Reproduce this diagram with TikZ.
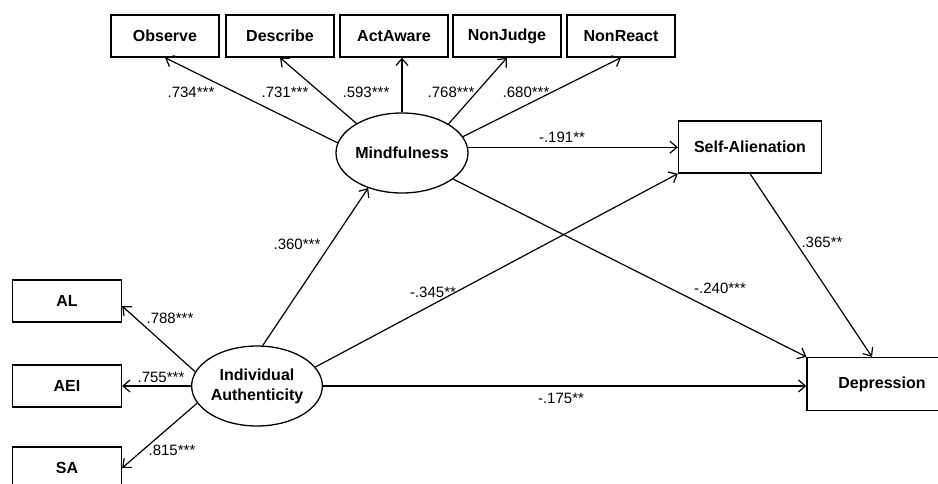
\documentclass[tikz,border=0pt]{standalone}
\usepackage{fontspec}
\setmainfont{Liberation Sans}
\usetikzlibrary{shapes.geometric,arrows.meta}

\tikzset{
	indic/.style={rectangle, draw, line width=1.3pt, minimum height=42pt, inner sep=0pt, font=\fontsize{16}{19}\selectfont\bfseries},
	latent/.style={ellipse, draw, line width=1.3pt, minimum width=127pt, minimum height=80pt, inner sep=0pt, align=center, font=\fontsize{16}{20}\selectfont\bfseries},
	coef/.style={inner sep=0pt, font=\fontsize{15}{18}\selectfont},
	link/.style={-{Straight Barb[length=7pt,width=12pt]}, line width=1.2pt}
}

\begin{document}
\begin{tikzpicture}[x=1pt, y=-1pt]
	\useasboundingbox (0,0) rectangle (938,483);

	% latent variables
	\node[latent] (mind) at (402,153) {Mindfulness};
	\node[latent] (ia) at (257,386) {Individual\\Authenticity};

	% mindfulness facets
	\node[indic, minimum width=108pt] (obs) at (165,36) {Observe};
	\node[indic, minimum width=108pt] (desc) at (280,36) {Describe};
	\node[indic, minimum width=108pt] (act) at (394,36) {ActAware};
	\node[indic, minimum width=108pt] (nonj) at (507,36) {NonJudge};
	\node[indic, minimum width=108pt] (nonr) at (621,36) {NonReact};

	% authenticity parcels
	\node[indic, minimum width=109pt] (al) at (67,301) {AL};
	\node[indic, minimum width=109pt] (aei) at (67,386) {AEI};
	\node[indic, minimum width=109pt] (sa) at (67,468) {SA};

	\node[indic, minimum width=143pt, minimum height=52pt] (selfal) at (750,147) {Self-Alienation};
	\node[indic, minimum width=150pt, minimum height=53pt] (dep) at (882,384) {Depression};

	% loadings
	\draw[link] (mind.171) -- (obs.south);
	\draw[link] (mind.147) -- (desc.south);
	\draw[link] (mind.north) -- (mind.north |- act.south);
	\draw[link] (mind.32) -- (nonj.south);
	\draw[link] (mind.15) -- (nonr.south);
	\draw[link] (ia.167) -- ([yshift=-5pt]al.east);
	\draw[link] (ia.west) -- (ia.west -| aei.east);
	\draw[link] (ia.196) -- (sa.east);

	\node[coef] (l-obs) at (191,92) {.734***};
	\node[coef] (l-desc) at (285,92) {.731***};
	\node[coef] (l-act) at (366,92) {.593***};
	\node[coef] (l-nonj) at (451,92) {.768***};
	\node[coef] (l-nonr) at (526,92) {.680***};
	\node[coef] (l-al) at (170,318) {.788***};
	\node[coef] (l-aei) at (161,377) {.755***};
	\node[coef] (l-sa) at (172,450) {.815***};

	% structural paths
	\draw[link] (ia.82) -- (mind.226);
	\draw[link] (mind.5) -- (mind.5 -| selfal.west);
	\draw[link] (ia.18) -- (selfal.south west);
	\draw[link] (mind.333) -- (dep.north west);
	\draw[link] (selfal.south) -- ([xshift=-10pt]dep.north);
	\draw[link] (ia.east) -- (ia.east -| dep.west);

	\node[coef] (p-im) at (297,244) {.360***};
	\node[coef] (p-ms) at (562,137) {-.191**};
	\node[coef] (p-is) at (433,292) {-.345**};
	\node[coef] (p-md) at (720,288) {-.240***};
	\node[coef] (p-sd) at (822,242) {.365**};
	\node[coef] (p-id) at (561,398) {-.175**};
\end{tikzpicture}
\end{document}
